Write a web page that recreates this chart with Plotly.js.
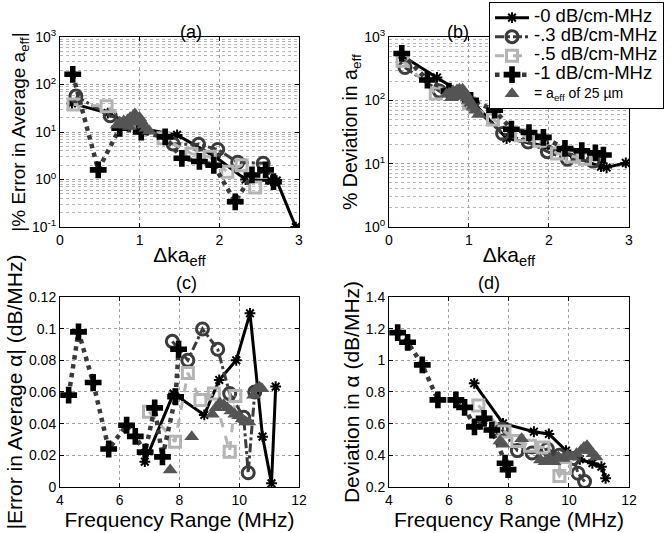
<!DOCTYPE html>
<html>
<head>
<meta charset="utf-8">
<script src="https://cdn.plot.ly/plotly-3.0.1.min.js"></script>
<style>html,body{margin:0;padding:0;background:#fff;}#chart{width:671px;height:533px;}</style>
</head>
<body>
<div id="chart"></div>
<script>
// ---------- Series names ----------
var seriesNames = ["-0 dB/cm-MHz", "-.3 dB/cm-MHz", "-.5 dB/cm-MHz", "-1 dB/cm-MHz", "= a<sub>eff</sub> of 25 µm"];

// ---------- Tick labels ----------
var logTicksA = [0.1, 1, 10, 100, 1000];
var logTextA = ["10<sup>-1</sup>", "10<sup>0</sup>", "10<sup>1</sup>", "10<sup>2</sup>", "10<sup>3</sup>"];
var logTicksB = [1, 10, 100, 1000];
var logTextB = ["10<sup>0</sup>", "10<sup>1</sup>", "10<sup>2</sup>", "10<sup>3</sup>"];
var minorTicksLog = [0.2, 0.3, 0.4, 0.5, 0.6, 0.7, 0.8, 0.9,
                     2, 3, 4, 5, 6, 7, 8, 9,
                     20, 30, 40, 50, 60, 70, 80, 90,
                     200, 300, 400, 500, 600, 700, 800, 900];

// ---------- Panels (a) and (b): x = Δka_eff ----------
var dka_0 = [0.15, 0.6, 1.0, 1.47, 1.95, 2.33, 2.65, 2.72, 2.96];
var errA_0 = [40, 25, 12, 8.7, 3.0, 1.0, 0.95, 0.95, 0.1];
var devB_0 = [520, 230, 110, 25, 19, 12.5, 9.0, 8.7, 10.3];

var dka_03 = [0.2, 0.63, 1.0, 1.42, 1.74, 1.98, 2.23, 2.55];
var errA_03 = [57, 22, 14, 5.6, 5.5, 4.3, 2.3, 2.2];
var devB_03 = [330, 140, 90, 30, 22, 15.5, 11.8, 11];

var dka_05 = [0.17, 0.585, 1.0, 1.3, 1.65, 1.88, 2.1, 2.28, 2.45];
var errA_05 = [38, 35, 12, 7.4, 3.5, 3.0, 1.45, 2.0, 0.68];
var devB_05 = [420, 128, 90, 50, 28, 23, 14.5, 13, 12];

var dka_1 = [0.16, 0.48, 0.75, 1.02, 1.32, 1.53, 1.75, 1.93, 2.2, 2.41, 2.58, 2.68];
var errA_1 = [164, 1.6, 12, 10, 7.9, 2.8, 2.4, 2.0, 0.34, 1.25, 1.6, 0.9];
var devB_1 = [550, 209, 140, 100, 70, 35, 31, 26, 17.4, 16, 14.8, 13.7];

var dka_25 = [0.72, 0.75, 0.78, 0.8, 0.82, 0.85, 0.87, 0.88, 0.9, 0.92, 0.94, 0.96, 0.98, 1.0, 1.02, 1.05, 1.08, 1.12];
var errA_25 = [14, 16, 15, 17, 14, 18, 13, 20, 16, 22, 24, 21, 19, 20, 17, 14, 12, 10.5];
var devB_25 = [125, 130, 110, 140, 118, 145, 115, 150, 140, 150, 135, 125, 110, 100, 90, 80, 70, 60];

// ---------- Panels (c) and (d): x = frequency range (MHz) ----------
var f_0 = [6.84, 7.8, 8.83, 9.33, 9.9, 10.36, 10.78, 11.08, 11.22];
var errC_0 = [0.016, 0.059, 0.0455, 0.0676, 0.080, 0.1097, 0.0318, 0.0023, 0.0634];
var devD_0 = [0.855, 0.602, 0.549, 0.535, 0.43, 0.375, 0.35, 0.328, 0.255];

var f_03 = [7.76, 8.28, 8.77, 9.28, 9.68, 10.15, 10.3, 10.52];
var errC_03 = [0.092, 0.080, 0.0998, 0.087, 0.059, 0.044, 0.009, 0.06];
var devD_03 = [0.564, 0.43, 0.415, 0.44, 0.40, 0.38, 0.287, 0.234];

var f_05 = [6.98, 7.85, 8.28, 8.7, 9.15, 9.68, 9.87];
var errC_05 = [0.0476, 0.0286, 0.072, 0.055, 0.059, 0.0223, 0.0575];
var devD_05 = [0.715, 0.55, 0.49, 0.46, 0.45, 0.27, 0.32];

var f_1 = [4.29, 4.62, 5.11, 5.63, 6.23, 6.52, 6.85, 7.17, 7.43, 7.87, 7.97];
var errC_1 = [0.058, 0.098, 0.066, 0.024, 0.039, 0.032, 0.022, 0.050, 0.019, 0.057, 0.087];
var devD_1 = [1.175, 1.114, 0.971, 0.75, 0.75, 0.703, 0.58, 0.634, 0.56, 0.35, 0.31];

var fC_25 = [7.69, 8.41, 9.1, 9.22, 9.35, 9.48, 9.6, 9.72, 9.85, 9.98, 10.1, 10.22, 10.32, 10.48, 10.58, 10.68, 10.76];
var errC_25 = [0.0107, 0.0318, 0.046, 0.05, 0.053, 0.052, 0.05, 0.048, 0.046, 0.045, 0.043, 0.041, 0.041, 0.058, 0.062, 0.063, 0.062];
var fD_25 = [7.7, 7.8, 8.42, 9.05, 9.2, 9.35, 9.5, 9.65, 9.8, 9.95, 10.1, 10.25, 10.4, 10.5, 10.6, 10.7, 10.8, 10.9];
var devD_25 = [0.49, 0.47, 0.505, 0.37, 0.36, 0.38, 0.36, 0.39, 0.38, 0.40, 0.39, 0.41, 0.43, 0.45, 0.46, 0.43, 0.41, 0.39];

// ---------- Styles ----------
var styles = [
  {mode: 'lines+markers', line: {color: '#000', width: 3, dash: 'solid'},
   marker: {symbol: 'asterisk-open', size: 9, color: '#000', line: {color: '#000', width: 2}}},
  {mode: 'lines+markers', line: {color: '#3c3c3c', width: 3, dash: 'dashdot'},
   marker: {symbol: 'circle-open', size: 12, color: '#3c3c3c', line: {color: '#3c3c3c', width: 3}}},
  {mode: 'lines+markers', line: {color: '#b4b4b4', width: 3, dash: 'dash'},
   marker: {symbol: 'square-open', size: 11, color: '#b4b4b4', line: {color: '#b4b4b4', width: 3}}},
  {mode: 'lines+markers', line: {color: '#3a3a3a', width: 4.5, dash: 'dot'},
   marker: {symbol: 'cross', size: 14, color: '#000', line: {width: 0}}},
  {mode: 'markers',
   marker: {symbol: 'triangle-up', size: 13, color: '#555', line: {width: 0}}}
];

var panelData = [
  {xa: 'x', ya: 'y', xs: [dka_0, dka_03, dka_05, dka_1, dka_25], ys: [errA_0, errA_03, errA_05, errA_1, errA_25]},
  {xa: 'x2', ya: 'y2', xs: [dka_0, dka_03, dka_05, dka_1, dka_25], ys: [devB_0, devB_03, devB_05, devB_1, devB_25]},
  {xa: 'x3', ya: 'y3', xs: [f_0, f_03, f_05, f_1, fC_25], ys: [errC_0, errC_03, errC_05, errC_1, errC_25]},
  {xa: 'x4', ya: 'y4', xs: [f_0, f_03, f_05, f_1, fD_25], ys: [devD_0, devD_03, devD_05, devD_1, devD_25]}
];

var traces = [];
panelData.forEach(function (p, pi) {
  for (var s = 0; s < 5; s++) {
    var st = styles[s];
    var t = {
      type: 'scatter', x: p.xs[s], y: p.ys[s], xaxis: p.xa, yaxis: p.ya,
      mode: st.mode, marker: st.marker,
      name: '<span style="font-size:' + (s === 4 ? 14 : 18.5) + 'px">' + seriesNames[s] + '</span>',
      showlegend: pi === 0, legendgroup: 'g' + s, cliponaxis: true
    };
    if (st.line) t.line = st.line;
    traces.push(t);
  }
});

var FONT = 'Liberation Sans, Arial, Helvetica, sans-serif';
function baseAxis(extra) {
  var a = {
    showline: true, linecolor: '#000', linewidth: 1, mirror: 'ticks',
    ticks: 'inside', ticklen: 4, tickcolor: '#000',
    showgrid: true, gridcolor: '#a0a0a0', griddash: 'dot', gridwidth: 1,
    zeroline: false, tickfont: {family: FONT, size: 14, color: '#000'},
    automargin: false
  };
  for (var k in extra) a[k] = extra[k];
  return a;
}
var logMinor = {tickmode: 'array', tickvals: minorTicksLog, showgrid: true,
                gridcolor: '#b8b8b8', griddash: 'dot', gridwidth: 1, ticks: ''};
function titleFont(sz) { return {family: FONT, size: sz, color: '#000'}; }

var layout = {
  width: 671, height: 533,
  margin: {l: 0, r: 0, t: 0, b: 0},
  paper_bgcolor: '#fff', plot_bgcolor: '#fff',
  font: {family: FONT, color: '#000'},
  showlegend: true,
  legend: {
    x: 0.7288, y: 0.996, xanchor: 'left', yanchor: 'top',
    bgcolor: '#fff', bordercolor: '#000', borderwidth: 1,
    font: {family: FONT, size: 11, color: '#000'},
    tracegroupgap: 0, itemwidth: 34
  },
  xaxis: baseAxis({domain: [0.0894, 0.4456], range: [0, 3], dtick: 1, anchor: 'y',
    title: {text: 'Δka<sub>eff</sub>', font: titleFont(21), standoff: 0}}),
  yaxis: baseAxis({domain: [0.574, 0.9306], type: 'log', range: [-1, 3], tickmode: 'array',
    tickvals: logTicksA, ticktext: logTextA, anchor: 'x', minor: logMinor,
    title: {text: '|% Error in Average a<sub>eff</sub>|', font: titleFont(19), standoff: 0}}),
  xaxis2: baseAxis({domain: [0.5797, 0.9374], range: [0, 3], dtick: 1, anchor: 'y2',
    title: {text: 'Δka<sub>eff</sub>', font: titleFont(21), standoff: 0}}),
  yaxis2: baseAxis({domain: [0.574, 0.9306], type: 'log', range: [0, 3], tickmode: 'array',
    tickvals: logTicksB, ticktext: logTextB, anchor: 'x2', minor: logMinor,
    title: {text: '% Deviation in a<sub>eff</sub>', font: titleFont(19.5), standoff: 0}}),
  xaxis3: baseAxis({domain: [0.0894, 0.4456], range: [4, 12], dtick: 2, anchor: 'y3',
    title: {text: 'Frequency Range (MHz)', font: titleFont(21), standoff: 0}}),
  yaxis3: baseAxis({domain: [0.0863, 0.4428], range: [0, 0.12], dtick: 0.02, anchor: 'x3',
    title: {text: '|Error in Average α| (dB/MHz)', font: titleFont(21), standoff: 0}}),
  xaxis4: baseAxis({domain: [0.5797, 0.9374], range: [4, 12], dtick: 2, anchor: 'y4',
    title: {text: 'Frequency Range (MHz)', font: titleFont(21), standoff: 0}}),
  yaxis4: baseAxis({domain: [0.0863, 0.4428], range: [0.2, 1.4], dtick: 0.2, anchor: 'x4',
    title: {text: 'Deviation in α (dB/MHz)', font: titleFont(21), standoff: 0}}),
  annotations: [
    {text: '(a)', xref: 'paper', yref: 'paper', x: 178 / 671, y: 1 - 20 / 533, showarrow: false, font: {family: FONT, size: 18}},
    {text: '(b)', xref: 'paper', yref: 'paper', x: 471 / 671, y: 1 - 20 / 533, showarrow: false, font: {family: FONT, size: 18}},
    {text: '(c)', xref: 'paper', yref: 'paper', x: 174 / 671, y: 1 - 283 / 533, showarrow: false, font: {family: FONT, size: 18}},
    {text: '(d)', xref: 'paper', yref: 'paper', x: 502 / 671, y: 1 - 283 / 533, showarrow: false, font: {family: FONT, size: 18}}
  ]
};

Plotly.newPlot('chart', traces, layout, {staticPlot: true, displayModeBar: false});
</script>
</body>
</html>
